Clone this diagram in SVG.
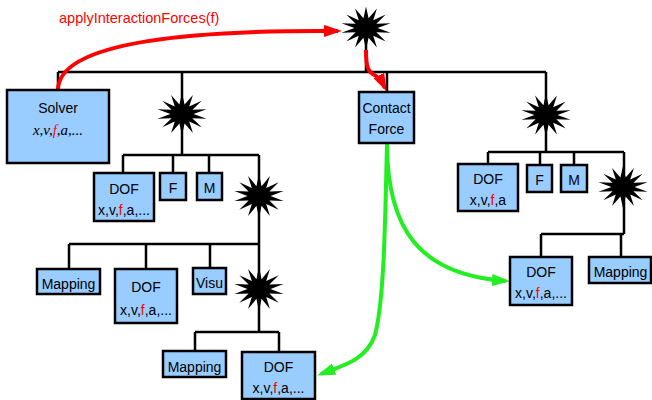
<svg xmlns="http://www.w3.org/2000/svg" width="652" height="400" viewBox="0 0 652 400">
<style>
.box{fill:#99ccff;stroke:#000;stroke-width:2.5}
.ln{fill:none;stroke:#000;stroke-width:2.5}
.t{font-family:"Liberation Sans",Arial,sans-serif;font-size:14px;fill:#000;text-anchor:middle}
.r{fill:#ff0000}
.it{font-family:"Liberation Serif","Times New Roman",serif;font-style:italic;font-size:15px;text-anchor:middle}
.red{fill:none;stroke:#ff0000;stroke-width:4}
.grn{fill:none;stroke:#22ee22;stroke-width:4}
</style>
<defs>
<path id="star" d="M0,-24 L2.45,-10.72 L10.41,-21.62 L6.86,-8.6 L18.76,-14.96 L9.91,-4.77 L23.4,-5.34 L11,0 L23.4,5.34 L9.91,4.77 L18.76,14.96 L6.86,8.6 L10.41,21.62 L2.45,10.72 L0,24 L-2.45,10.72 L-10.41,21.62 L-6.86,8.6 L-18.76,14.96 L-9.91,4.77 L-23.4,5.34 L-11,0 L-23.4,-5.34 L-9.91,-4.77 L-18.76,-14.96 L-6.86,-8.6 L-10.41,-21.62 L-2.45,-10.72 Z" fill="#000"/>
<marker id="ar" viewBox="0 0 18 12" markerUnits="userSpaceOnUse" markerWidth="18" markerHeight="12" refX="14" refY="6" orient="auto"><path d="M0,0 L18,6 L0,12 Z" fill="#ff0000"/></marker>
<marker id="ag" viewBox="0 0 18 12" markerUnits="userSpaceOnUse" markerWidth="18" markerHeight="12" refX="14" refY="6" orient="auto"><path d="M0,0 L18,6 L0,12 Z" fill="#22ee22"/></marker>
</defs>
<g id="connectors">
<path class="ln" d="M366,40 V72 M58,72 H546 M58,72 V90 M387,72 V92 M182,72 V155 M123,155 H259 M123,155 V173 M173,155 V173 M209,155 V173 M259,155 V244 M69,244 H259 M69,244 V269 M146,244 V269 M210,244 V268 M259,244 V332 M195,332 H279 M195,332 V351 M279,332 V352 M546,72 V152 M488,152 H624 M488,152 V164 M540,152 V165 M574,152 V165 M624,152 V234 M541,234 H624 M541,234 V257 M621,234 V257"/>
<path class="red" d="M58,90 C58,40 200,30 338,31" marker-end="url(#ar)"/>
<path class="red" d="M366,50 C366,68 368,72 376,76 C380,78 383,84 385,88" marker-end="url(#ar)"/>
<path class="grn" d="M387,143 C387,230 420,275 506,281" marker-end="url(#ag)"/>
<path class="grn" d="M387,143 C385,230 384,300 375,335 C366,360 345,365 321,374" marker-end="url(#ag)"/>
</g>
<text x="59" y="23" font-family="Liberation Sans, Arial, sans-serif" font-size="14.5" fill="#ff0000">applyInteractionForces(f)</text>
<g id="star-top"><use href="#star" transform="translate(366,28) scale(1.05,0.9)"/></g>
<g id="star-s1"><use href="#star" transform="translate(182,114) scale(1.05,0.88)"/></g>
<g id="star-s2"><use href="#star" transform="translate(259,196) scale(1.05,0.92)"/></g>
<g id="star-s3"><use href="#star" transform="translate(259,289) scale(1.05,0.92)"/></g>
<g id="star-sr"><use href="#star" transform="translate(546,115) scale(1.05,0.9)"/></g>
<g id="star-sr2"><use href="#star" transform="translate(623,187) scale(1.05,0.88)"/></g>
<g id="solver"><rect class="box" x="7" y="90" width="102" height="73"/><text class="t" x="58" y="113" font-size="15">Solver</text><text class="it" x="58" y="135">x,v,<tspan class="r">f</tspan>,a,...</text></g>
<g id="contact"><rect class="box" x="359" y="92" width="55" height="51"/><text class="t" x="386.5" y="113">Contact</text><text class="t" x="386.5" y="134">Force</text></g>
<g id="dof1"><rect class="box" x="94" y="173" width="60" height="48"/><text class="t" x="124" y="194" font-size="15">DOF</text><text class="t" x="124" y="215">x,v,<tspan class="r">f</tspan>,a,...</text></g>
<g id="f1"><rect class="box" x="160" y="173" width="26" height="27"/><text class="t" x="173" y="193">F</text></g>
<g id="m1"><rect class="box" x="197" y="173" width="25" height="27"/><text class="t" x="209.5" y="193">M</text></g>
<g id="mapping1"><rect class="box" x="37" y="269" width="63" height="25"/><text class="t" x="68.5" y="289">Mapping</text></g>
<g id="dof2"><rect class="box" x="115" y="269" width="62" height="54"/><text class="t" x="146" y="292" font-size="15">DOF</text><text class="t" x="146" y="315">x,v,<tspan class="r">f</tspan>,a,...</text></g>
<g id="visu"><rect class="box" x="193" y="268" width="33" height="26"/><text class="t" x="209.5" y="288">Visu</text></g>
<g id="mapping2"><rect class="box" x="163" y="351" width="63" height="26"/><text class="t" x="194.5" y="372">Mapping</text></g>
<g id="dof3"><rect class="box" x="242" y="352" width="73" height="47"/><text class="t" x="278.5" y="372" font-size="15">DOF</text><text class="t" x="278.5" y="393">x,v,<tspan class="r">f</tspan>,a,...</text></g>
<g id="dofr"><rect class="box" x="458" y="164" width="60" height="47"/><text class="t" x="488" y="184" font-size="15">DOF</text><text class="t" x="488" y="205">x,v,<tspan class="r">f</tspan>,a</text></g>
<g id="fr"><rect class="box" x="527" y="165" width="25" height="27"/><text class="t" x="539.5" y="185">F</text></g>
<g id="mr"><rect class="box" x="561" y="165" width="26" height="27"/><text class="t" x="574" y="185">M</text></g>
<g id="dofr2"><rect class="box" x="510" y="257" width="62" height="48"/><text class="t" x="541" y="277" font-size="15">DOF</text><text class="t" x="541" y="298">x,v,<tspan class="r">f</tspan>,a,...</text></g>
<g id="mappingr"><rect class="box" x="589" y="257" width="62" height="26"/><text class="t" x="620.5" y="277">Mapping</text></g>
</svg>
